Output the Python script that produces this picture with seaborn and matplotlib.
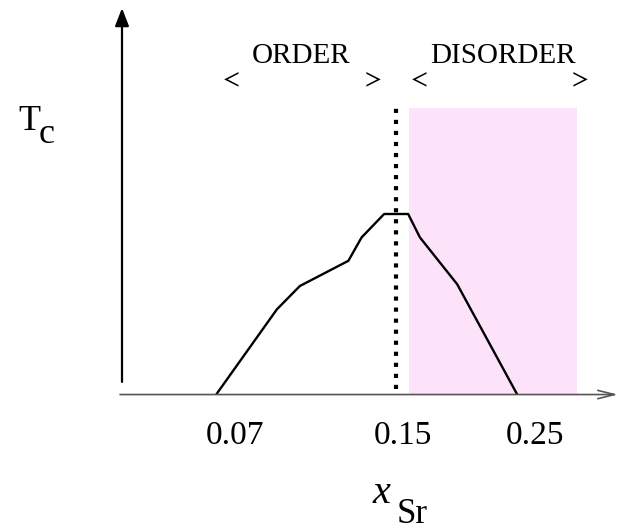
import matplotlib
matplotlib.use("Agg")
import matplotlib.pyplot as plt
import seaborn as sns
import pandas as pd

# Schematic Sr-doping axis (arbitrary units) and normalised Tc (peak = 1)
x_pos = [1.93, 3.16, 3.63, 4.62, 4.89, 5.35, 5.84, 6.08, 6.84, 8.06]
tc = [0.0, 0.47, 0.60, 0.74, 0.87, 1.0, 1.0, 0.87, 0.61, 0.0]

tick_pos = [2.31, 5.73, 8.43]
tick_labels = ["0.07", "0.15", "0.25"]

boundary_x = 5.59          # order / disorder boundary (dotted)
disorder_span = [5.86, 9.29]
region_top = 1.59
boundary_top = 1.61

sns.set_theme(style="white")
plt.rcParams["font.family"] = ["Liberation Serif", "DejaVu Serif"]
plt.rcParams["text.color"] = "black"
plt.rcParams["mathtext.fontset"] = "stix"

W, H = 620, 530
fig = plt.figure(figsize=(W / 100, H / 100), dpi=100)
ax = fig.add_axes([122 / W, (H - 394) / H, (612 - 122) / W, (394 - 8) / H])
ax.set_xlim(0, 10)
ax.set_ylim(0, 386 / 180)
ax.set_axis_off()

# Disorder region shading
ax.fill_between(disorder_span, 0, region_top, color="#fde3f9", lw=0, zorder=0)

# Tc dome
df = pd.DataFrame({"x": x_pos, "Tc": tc})
sns.lineplot(data=df, x="x", y="Tc", ax=ax, color="black", lw=1.7,
             sort=False, estimator=None, zorder=3)

# Boundary between ordered and disordered regimes
ax.plot([boundary_x, boundary_x], [0.03, boundary_top], color="black",
        lw=3.0, linestyle=(0, (1, 1.65)), dash_capstyle="butt", zorder=4)

# Axes drawn as arrows
ax.annotate("", xy=(0, 2.144), xytext=(0, 0.067), xycoords="data",
            annotation_clip=False,
            arrowprops=dict(arrowstyle="-|>,head_length=0.9,head_width=0.35",
                            color="black", lw=1.6, shrinkA=0, shrinkB=0))
ax.annotate("", xy=(10.12, -0.003), xytext=(-0.04, -0.003), xycoords="data",
            annotation_clip=False,
            arrowprops=dict(arrowstyle="->,head_length=1.0,head_width=0.25",
                            color="#555555", lw=1.2, shrinkA=0, shrinkB=0))

# Tick labels
for xp, lab in zip(tick_pos, tick_labels):
    ax.text(xp, -50 / 180, lab, ha="center", va="baseline", fontsize=24,
            clip_on=False)

# Regime labels
ax.text(3.65, 1.88, "ORDER", ha="center", va="center", fontsize=21)
ax.text(7.78, 1.88, "DISORDER", ha="center", va="center", fontsize=21)
for xp, sym in zip([2.20, 5.10, 6.04, 9.31], ["<", ">", "<", ">"]):
    ax.text(xp, 1.745, "$" + sym + "$", ha="center", va="center", fontsize=18)

# Axis titles
fig.text(18 / W, 1 - 130 / H, "T", fontsize=26, ha="left", va="baseline")
fig.text(39 / W, 1 - 143 / H, "c", fontsize=26, ha="left", va="baseline")
fig.text(381 / W, 1 - 503 / H, "x", fontsize=29, style="italic",
         ha="center", va="baseline")
fig.text(397 / W, 1 - 523 / H, "Sr", fontsize=25, ha="left", va="baseline")

fig.savefig("out.png", dpi=100)
